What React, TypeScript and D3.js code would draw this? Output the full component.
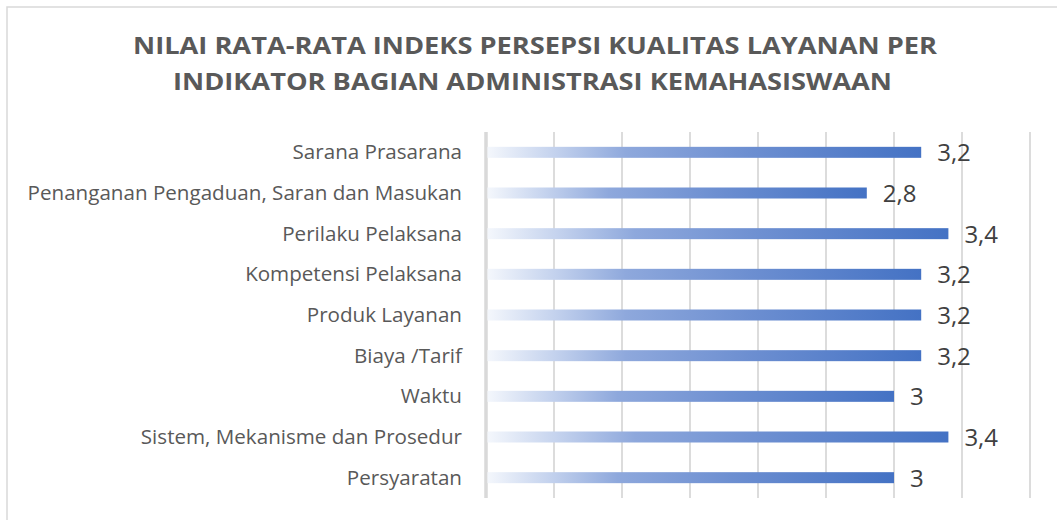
import React from "react";
import * as d3 from "d3";

const categories = [
  "Sarana Prasarana",
  "Penanganan Pengaduan, Saran dan Masukan",
  "Perilaku Pelaksana",
  "Kompetensi Pelaksana",
  "Produk Layanan",
  "Biaya /Tarif",
  "Waktu",
  "Sistem, Mekanisme dan Prosedur",
  "Persyaratan",
];
const values = [3.2, 2.8, 3.4, 3.2, 3.2, 3.2, 3, 3.4, 3];
const valueLabels = ["3,2", "2,8", "3,4", "3,2", "3,2", "3,2", "3", "3,4", "3"];
const tickValues = [0, 0.5, 1, 1.5, 2, 2.5, 3, 3.5, 4];
const titleLines = [
  "NILAI RATA-RATA INDEKS PERSEPSI KUALITAS LAYANAN PER",
  "INDIKATOR BAGIAN ADMINISTRASI KEMAHASISWAAN",
];

const W = 1057;
const H = 520;
const FONT = "'Open Sans', 'Noto Sans', sans-serif";

export default function App() {
  const x = d3.scaleLinear().domain([0, 4]).range([486, 1030]);
  const y = d3.scaleBand<string>().domain(categories).range([132, 498]).padding(0);
  const barH = 11;

  return (
    <svg
      width={W}
      height={H}
      style={{ position: "absolute", left: 0, top: 0, display: "block", background: "#fff" }}
    >
      <defs>
        <linearGradient id="barGrad" x1="0" y1="0" x2="1" y2="0">
          <stop offset="0" stopColor="#f4f7fc" />
          <stop offset="0.15" stopColor="#c5d3ee" />
          <stop offset="0.32" stopColor="#8ea8dc" />
          <stop offset="0.6" stopColor="#6d8fd1" />
          <stop offset="1" stopColor="#4472c4" />
        </linearGradient>
      </defs>
      <rect x={7} y={7} width={W + 10} height={H + 10} fill="#fff" stroke="#d9d9d9" strokeWidth={1.5} />

      {titleLines.map((t, i) => (
        <text
          key={i}
          x={i === 0 ? 535 : 532.5}
          y={i === 0 ? 54 : 90}
          textAnchor="middle"
          fontFamily={FONT}
          fontWeight={700}
          fontSize={23}
          fill="#595959"
          textLength={i === 0 ? 804 : 719}
          lengthAdjust="spacingAndGlyphs"
        >
          {t}
        </text>
      ))}

      {tickValues.slice(1).map((t) => (
        <line key={t} x1={x(t)} x2={x(t)} y1={132} y2={498} stroke="#d0d0d0" strokeWidth={1.5} />
      ))}
      <line x1={x(0)} x2={x(0)} y1={132} y2={498} stroke="#d9d9d9" strokeWidth={3.5} />

      {categories.map((c, i) => {
        const cy = (y(c) as number) + y.bandwidth() / 2;
        return (
          <g key={c}>
            <rect
              x={x(0) + 1.5}
              y={cy - barH / 2}
              width={x(values[i]) - x(0) - 1.5}
              height={barH}
              fill="url(#barGrad)"
            />
            <text
              x={462}
              y={cy + 7}
              textAnchor="end"
              fontFamily={FONT}
              fontSize={20.6}
              fill="#595959"
            >
              {c}
            </text>
            <text
              x={x(values[i]) + 16}
              y={cy + 9}
              fontFamily={FONT}
              fontSize={24}
              fill="#404040"
            >
              {valueLabels[i]}
            </text>
          </g>
        );
      })}
    </svg>
  );
}
